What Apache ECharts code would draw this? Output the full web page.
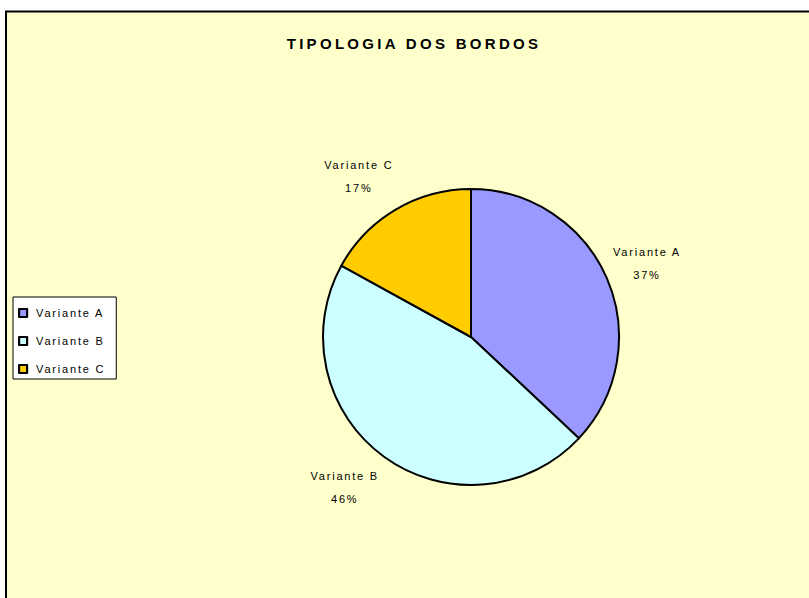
<!DOCTYPE html>
<html>
<head>
<meta charset="utf-8">
<script src="https://cdn.jsdelivr.net/npm/echarts@6/dist/echarts.min.js"></script>
<style>
  html, body { margin: 0; padding: 0; background: #fff; }
  #chart { width: 809px; height: 598px; }
  #chart svg text { letter-spacing: 1.8px; }
  #chart svg text[style*="bold"] { letter-spacing: 3.3px; }
</style>
</head>
<body>
<div id="chart"></div>
<script>
const titleText = 'TIPOLOGIA DOS BORDOS';
const categories = ['Variante A', 'Variante B', 'Variante C'];
const values = [37, 46, 17];
const colors = ['#9999FF', '#CCFFFF', '#FFCC00'];

const FONT = '"Liberation Sans", Arial, sans-serif';

const chart = echarts.init(document.getElementById('chart'), null, { renderer: 'svg' });

const option = {
  animation: false,
  backgroundColor: '#ffffff',
  graphic: [{
    type: 'rect',
    z: 0,
    silent: true,
    shape: { x: 6, y: 11.5, width: 830, height: 620 },
    style: { fill: '#FFFFCC', stroke: '#000000', lineWidth: 2 }
  }],
  title: {
    text: titleText,
    left: 409,
    top: 31,
    textAlign: 'center',
    textStyle: { fontFamily: FONT, fontSize: 15, fontWeight: 'bold', color: '#000' }
  },
  legend: {
    orient: 'vertical',
    left: 13,
    top: 297,
    padding: [10, 29, 4, 5],
    itemWidth: 16,
    itemHeight: 8,
    itemGap: 16,
    icon: 'path://M0,0H10V10H0Z',
    selectedMode: false,
    backgroundColor: '#ffffff',
    borderColor: '#000000',
    borderWidth: 1,
    data: categories,
    itemStyle: { borderColor: '#000', borderWidth: 2.2 },
    textStyle: { fontFamily: FONT, fontSize: 11, lineHeight: 12, color: '#000' }
  },
  series: [{
    type: 'pie',
    center: [471, 337],
    radius: 148,
    startAngle: 90,
    clockwise: true,
    percentPrecision: 0,
    avoidLabelOverlap: false,
    silent: true,
    data: categories.map((name, i) => ({ name: name, value: values[i], itemStyle: { color: colors[i] } })),
    itemStyle: { borderColor: '#000', borderWidth: 2 },
    label: {
      show: true,
      position: 'outside',
      formatter: '{b}\n{d}%',
      fontFamily: FONT,
      fontSize: 11,
      lineHeight: 23,
      color: '#000'
    },
    labelLine: { show: true, length: 38, length2: 0, lineStyle: { width: 0, opacity: 0 } },
    labelLayout: function (p) {
      const pts = p.labelLinePoints;
      if (!pts || pts.length < 2) return {};
      const dx = pts[1][0] - pts[0][0], dy = pts[1][1] - pts[0][1];
      const len = Math.hypot(dx, dy) || 1;
      const ux = dx / len;
      return {
        x: pts[1][0] + ux * 70 * (1 - Math.abs(ux)),
        y: pts[1][1],
        align: 'center',
        verticalAlign: 'middle'
      };
    }
  }]
};
chart.setOption(option);
</script>
</body>
</html>
